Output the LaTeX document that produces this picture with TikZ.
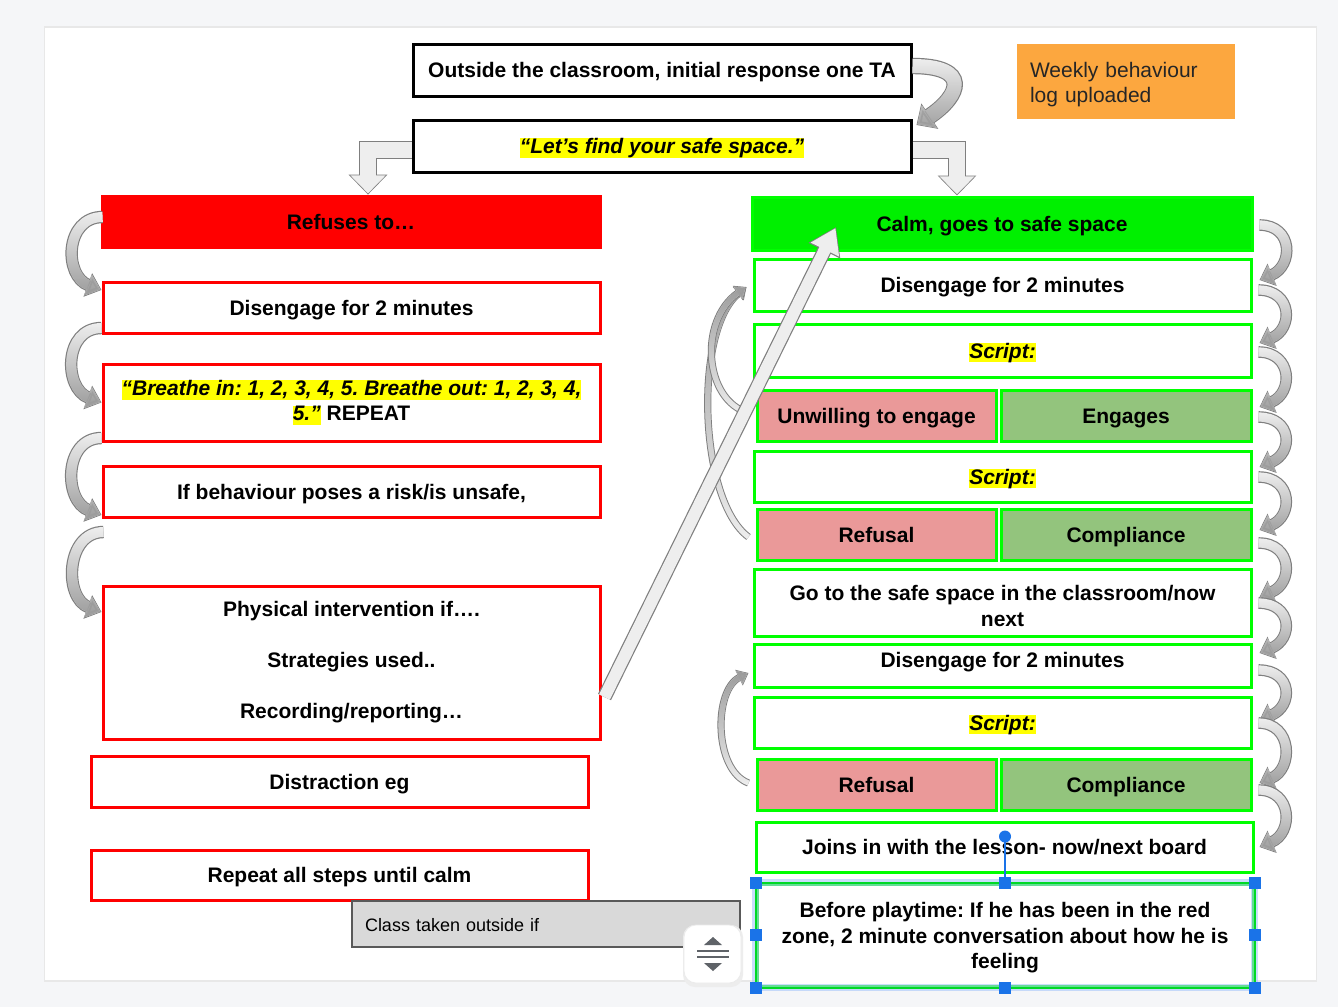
\documentclass[tikz,border=0pt]{standalone}
\usepackage{fontspec}
\setmainfont{Liberation Sans}
\usetikzlibrary{arrows.meta,fadings}
\frenchspacing
\definecolor{pagebg}{HTML}{F5F6F8}
\definecolor{gr}{HTML}{00FF00}
\definecolor{calmg}{HTML}{00F000}
\definecolor{pinkr}{HTML}{EA9999}
\definecolor{lgreen}{HTML}{93C47D}
\definecolor{orng}{HTML}{FCA73F}
\definecolor{hlyel}{HTML}{FFFF00}
\definecolor{clsgray}{HTML}{D9D9D9}
\definecolor{selblue}{HTML}{1A73E8}
\definecolor{sellight}{HTML}{A8C7FA}
\definecolor{arrlight}{HTML}{EEEEEE}
\definecolor{arrline}{HTML}{7F7F7F}
\definecolor{arrdark}{HTML}{9C9C9C}
\definecolor{icongray}{HTML}{5F6368}
\newcommand\hlt[1]{{\setlength{\fboxsep}{0pt}\colorbox{hlyel}{\vphantom{Ay}#1}}}
\newcommand\lowered[2]{\raisebox{#1}[\height][\depth]{#2}}
\pgfdeclarelayer{bg}
\pgfsetlayers{bg,main}
\tikzset{
  base/.style={font=\fontsize{10.5}{12.75}\selectfont\bfseries, inner sep=0pt, align=center, text=black},
  one/.style={text height=9.5pt, text depth=2pt},
  sz/.style 2 args={minimum width=#1, minimum height=#2},
  kbox/.style={base, draw=black, line width=1.5pt, fill=white},
  rbox/.style={base, draw=red, line width=1.5pt, fill=white},
  gbox/.style={base, draw=gr, line width=1.5pt, fill=white},
  blk/.style n args={6}{line width=#1, draw=arrlight, line join=miter,
     -{Triangle[width=#3,length=#4]}, shorten >=0.6pt,
     preaction={draw=arrline, line width=#2, -{Triangle[width=#5,length=#6]}, shorten >=0pt}},
  fadeN/.style={postaction={draw=arrdark, path fading=north, fit fading=true}},
  fadeS/.style={postaction={draw=arrdark, path fading=south, fit fading=true}},
  curvR/.style={blk={4.6pt}{5.8pt}{10pt}{6pt}{11.6pt}{6.8pt}, fadeN},
  curvL/.style={blk={5pt}{6.2pt}{10.5pt}{6.5pt}{12.1pt}{7.3pt}, fadeN},
  curvS/.style={blk={2.6pt}{3.6pt}{7pt}{4.5pt}{8.4pt}{5.3pt}, fadeS},
  handle/.style={fill=selblue, minimum size=6pt, inner sep=0pt},
}
\begin{document}
\begin{tikzpicture}[x=0.5pt,y=-0.5pt]
\useasboundingbox (0,0) rectangle (1338,1007);
\begin{pgfonlayer}{bg}
\fill[pagebg] (0,0) rectangle (1338,1007);
\fill[black!9] (44,26) rectangle (1317,982);
\fill[white] (45,28) rectangle (1316,980);
\end{pgfonlayer}

% top
\node[kbox, one, sz={249pt}{26pt}] (top) at (662,70) {Outside the classroom, initial response one TA};
\node[kbox, one, sz={249pt}{26pt}] (lets) at (662,146) {\hlt{\itshape “Let’s find your safe space.”}};
\node[base, fill=orng, sz={109pt}{37.5pt}, font=\fontsize{10.5}{12.5}\selectfont\mdseries, text=black!85, text width=96pt, align=left] (weekly) at (1126,81.5) {\lowered{-1.5pt}{\begin{tabular}{@{}l@{}}Weekly behaviour\\log uploaded\end{tabular}}};

% left column
\node[base, one, fill=red, draw=red, sz={250pt}{26.5pt}] (refuses) at (351,221.5) {Refuses to…};
\node[rbox, one, sz={248.5pt}{25.5pt}] (rdis) at (351.5,307.5) {Disengage for 2 minutes};
\node[rbox, sz={248.5pt}{38.5pt}] (rbreathe) at (351.5,402.5) {\hlt{\itshape “Breathe in: 1, 2, 3, 4, 5. Breathe out: 1, 2, 3, 4,}\\\hlt{\itshape 5.”} REPEAT};
\node[rbox, one, sz={248.5pt}{25.5pt}] (rif) at (351.5,491.5) {If behaviour poses a risk/is unsafe,};
\node[rbox, sz={248.5pt}{76.5pt}] (rphys) at (351.5,662.5) {Physical intervention if….\\[12.75pt]Strategies used..\\[12.75pt]Recording/reporting…};
\node[rbox, one, sz={248.5pt}{25.5pt}] (rdist) at (339.5,781.5) {Distraction eg};
\node[rbox, one, sz={248.5pt}{25pt}] (rrep) at (339.5,875) {Repeat all steps until calm};
\node[base, one, fill=clsgray, draw=black!65, line width=0.7pt, sz={194pt}{23pt}, text width=181pt, align=left, font=\fontsize{9}{11}\selectfont\mdseries] (cls) at (546,924) {Class taken outside if};

% right column
\node[base, one, fill=calmg, draw=gr, line width=1.5pt, sz={250pt}{26.5pt}] (calm) at (1002,223.5) {Calm, goes to safe space};
\node[gbox, one, sz={248.5pt}{26pt}] (gdis1) at (1002.5,285) {Disengage for 2 minutes};
\node[gbox, one, sz={248.5pt}{26.5pt}] (gscr1) at (1002.5,350.5) {\hlt{\itshape Script:}};
\node[gbox, one, fill=pinkr, sz={119.5pt}{25.5pt}] (unw1) at (876.5,415.5) {Unwilling to engage};
\node[gbox, one, fill=lgreen, sz={125pt}{25.5pt}] (eng) at (1126,415.5) {Engages};
\node[gbox, one, sz={248.5pt}{25.5pt}] (gscr2) at (1002.5,476.5) {\hlt{\itshape Script:}};
\node[gbox, one, fill=pinkr, sz={119.5pt}{25.5pt}] (ref1) at (876.5,534.5) {Refusal};
\node[gbox, one, fill=lgreen, sz={125pt}{25.5pt}] (comp1) at (1126,534.5) {Compliance};
\node[gbox, sz={248.5pt}{33.5pt}] (gogo) at (1002.5,602.5) {\lowered{-3pt}{\begin{tabular}{@{}c@{}}Go to the safe space in the classroom/now\\next\end{tabular}}};
\node[gbox, one, sz={248.5pt}{21.5pt}] (gdis2) at (1002.5,665.5) {\raisebox{2.75pt}{Disengage for 2 minutes}};
\node[gbox, one, sz={248.5pt}{25.5pt}] (gscr3) at (1002.5,722.5) {\hlt{\itshape Script:}};
\node[gbox, one, fill=pinkr, sz={119.5pt}{25.5pt}] (ref2) at (876.5,784.5) {Refusal};
\node[gbox, one, fill=lgreen, sz={125pt}{25.5pt}] (comp2) at (1126,784.5) {Compliance};
\node[gbox, one, sz={248.5pt}{25pt}] (joins) at (1004.5,847) {Joins in with the lesson- now/next board};
\node[gbox, sz={248pt}{51pt}] (before) at (1005,935) {\lowered{-1.5pt}{\begin{tabular}{@{}c@{}}Before playtime: If he has been in the red\\zone, 2 minute conversation about how he is\\feeling\end{tabular}}};

% top arrows
\draw[blk={7pt}{8.2pt}{13pt}{7pt}{14.8pt}{8pt}, fadeN] ([yshift=2pt]top.east) .. controls +(58,0) and +(45,-30) .. ([xshift=2pt,yshift=10.5pt]lets.east);
\draw[blk={8pt}{9.2pt}{17pt}{9pt}{18.8pt}{10pt}] ([yshift=-2pt]lets.west) -| ([xshift=8.5pt]refuses.north);
\draw[blk={8pt}{9.2pt}{17pt}{9pt}{18.8pt}{10pt}] ([yshift=-2pt]lets.east) -| ([xshift=-22.5pt]calm.north);

% left column arrows
\coordinate (l4s) at ([xshift=1pt,yshift=-20.25pt]rif.west);
\draw[curvL] ([xshift=1pt,yshift=2.25pt]refuses.west) .. controls +(-38,0) and +(-38,-14) .. ([yshift=8.75pt]rdis.west);
\draw[curvL] ([yshift=-10.25pt]rdis.west) .. controls +(-38,0) and +(-38,-14) .. (rbreathe.west);
\draw[curvL] ([yshift=-17.75pt]rbreathe.west) .. controls +(-38,0) and +(-38,-14) .. ([yshift=-11.75pt]rif.west);
\draw[curvL] (l4s) .. controls +(-38,0) and +(-38,-14) .. ([yshift=25.25pt]rphys.west);

% right column arrows
\draw[curvR] ([xshift=3pt,yshift=-0.75pt]calm.east) .. controls +(34,0) and +(34,-14) .. ([xshift=3.5pt,yshift=2.5pt]gdis1.east);
\draw[curvR] ([xshift=3pt,yshift=-2.5pt]gdis1.east) .. controls +(34,0) and +(34,-14) .. ([xshift=3.5pt,yshift=3.75pt]gscr1.east);
\draw[curvR] ([xshift=3pt,yshift=-0.75pt]gscr1.east) .. controls +(34,0) and +(34,-14) .. ([xshift=3.5pt,yshift=4.25pt]eng.east);
\draw[curvR] ([xshift=3pt,yshift=-0.75pt]eng.east) .. controls +(34,0) and +(34,-14) .. ([xshift=3.5pt,yshift=4.75pt]gscr2.east);
\draw[curvR] ([xshift=3pt,yshift=-0.25pt]gscr2.east) .. controls +(34,0) and +(34,-14) .. ([xshift=3.5pt,yshift=2.25pt]comp1.east);
\draw[curvR] ([xshift=3pt,yshift=-4.25pt]comp1.east) .. controls +(34,0) and +(34,-14) .. ([xshift=3.5pt,yshift=2.75pt]gogo.east);
\draw[curvR] ([xshift=3pt,yshift=-0.25pt]gogo.east) .. controls +(34,0) and +(34,-14) .. ([xshift=3.5pt,yshift=6.25pt]gdis2.east);
\draw[curvR] ([xshift=3pt,yshift=-2.25pt]gdis2.east) .. controls +(34,0) and +(34,-14) .. ([xshift=3.5pt,yshift=1.25pt]gscr3.east);
\draw[curvR] ([xshift=3pt,yshift=-0.25pt]gscr3.east) .. controls +(34,0) and +(34,-14) .. ([xshift=3.5pt,yshift=0.75pt]comp2.east);
\draw[curvR] ([xshift=3pt,yshift=-2.75pt]comp2.east) .. controls +(34,0) and +(34,-14) .. ([xshift=2.5pt]joins.east);

% small arrows on the left of the right column
\draw[curvS] ([xshift=-3.5pt,yshift=-1.25pt]ref1.west) .. controls +(-50,-37) and +(-53,43) .. ([xshift=-3pt,yshift=-1pt]gdis1.west);
\draw[curvS] ([xshift=-3.5pt,yshift=1.25pt]unw1.west) .. controls +(-45,-13) and +(-48,33) .. ([xshift=-3pt,yshift=-1pt]gdis1.west);
\draw[curvS] ([xshift=-3.5pt,yshift=0.75pt]ref2.west) .. controls +(-35,-13) and +(-35,17) .. ([xshift=-2pt,yshift=-3.75pt]gdis2.west);

% diagonal arrow
\draw[blk={6pt}{7.2pt}{15pt}{12pt}{16.8pt}{13.2pt}] ([xshift=1.5pt,yshift=-17.25pt]rphys.east) -- ([xshift=-83pt,yshift=-1.75pt]calm.center);

% selection overlay on the last box
\draw[sellight, line width=3.5pt, opacity=0.6] (before.north west) rectangle (before.south east);
\draw[gr!70!teal, line width=1pt] (before.north west) rectangle (before.south east);
\coordinate (rot) at ([yshift=23pt]before.north);
\draw[selblue, line width=1pt] (before.north) -- (rot);
\fill[selblue] (rot) circle (3pt);
\foreach \a in {north west,north,north east,west,east,south west,south,south east}
  \node[handle] at (before.\a) {};

% floating widget
\fill[black!7, rounded corners=6pt] (683,925) rectangle (743,987);
\node[draw=black!8, fill=white, rounded corners=6pt, minimum width=28.5pt, minimum height=29pt, inner sep=0pt] (wdg) at (712.5,954) {};
\fill[icongray] (704,945) -- (713,937) -- (722,945) -- cycle;
\draw[icongray, line width=1.2pt] (697,951) -- (729,951) (697,957) -- (729,957);
\fill[icongray] (704,963) -- (713,971) -- (722,963) -- cycle;
\end{tikzpicture}
\end{document}
